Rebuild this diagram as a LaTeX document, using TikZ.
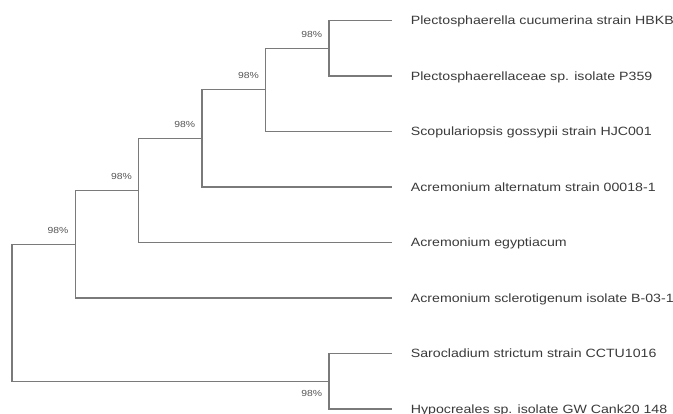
\documentclass[tikz,border=0pt]{standalone}
\usepackage{fontspec}
\setmainfont{Liberation Sans}
\newfontfamily\taxfont[FakeStretch=1.18]{Liberation Sans}
\usetikzlibrary{positioning}
\definecolor{branchgray}{HTML}{7A7A7A}
\definecolor{taxtext}{HTML}{3A3A3A}
\definecolor{bootgray}{HTML}{555555}

\begin{document}
\begin{tikzpicture}[
  x=1pt, y=-1pt,
  node distance=0pt and 19pt,
  branch/.style={draw=branchgray, line width=1.1pt},
  taxon/.style={font=\taxfont\fontsize{12}{14}\selectfont, text=taxtext,
                inner sep=0pt, text height=8.6pt, text depth=0pt},
  boot/.style={font=\taxfont\fontsize{8.8}{10}\selectfont, text=bootgray,
               inner sep=0pt, anchor=base east},
]
\useasboundingbox (0,0) rectangle (673,414);

%% TIPS
\coordinate (e1) at (391.7,20.5);
\coordinate (e2) at (391.7,76);
\coordinate (e3) at (391.7,131.5);
\coordinate (e4) at (391.7,187);
\coordinate (e5) at (391.7,242.5);
\coordinate (e6) at (391.7,298);
\coordinate (e7) at (391.7,353.5);
\coordinate (e8) at (391.7,409);

%% --- INTERNAL NODES ---
\coordinate (n1)   at (329,48.25);
\coordinate (n2)   at (265.7,89.9);
\coordinate (n3)   at (202,138.4);
\coordinate (n4)   at (138.7,190.5);
\coordinate (n5)   at (75.3,244.2);
\coordinate (n7)   at (329,381.25);
\coordinate (root) at (12,312.7);

%% Taxon labels
\node[taxon, right=of e1] (t1) {Plectosphaerella cucumerina strain HBKB};
\node[taxon, right=of e2] (t2) {Plectosphaerellaceae sp. isolate P359};
\node[taxon, right=of e3] (t3) {Scopulariopsis gossypii strain HJC001};
\node[taxon, right=of e4] (t4) {Acremonium alternatum strain 00018-1};
\node[taxon, right=of e5] (t5) {Acremonium egyptiacum};
\node[taxon, right=of e6] (t6) {Acremonium sclerotigenum isolate B-03-1};
\node[taxon, right=of e7] (t7) {Sarocladium strictum strain CCTU1016};
\node[taxon, right=of e8] (t8) {Hypocreales sp. isolate GW Cank20 148};

%% Bootstrap values
\node[boot] (b1) at ([xshift=-6.7pt, yshift=11pt]n1) {98\%};
\node[boot] (b2) at ([xshift=-6.7pt, yshift=11pt]n2) {98\%};
\node[boot] (b3) at ([xshift=-6.7pt, yshift=11pt]n3) {98\%};
\node[boot] (b4) at ([xshift=-6.7pt, yshift=11pt]n4) {98\%};
\node[boot] (b5) at ([xshift=-6.7pt, yshift=11pt]n5) {98\%};
\node[boot] (b7) at ([xshift=-6.7pt, yshift=-15.7pt]n7) {98\%};

%% Branches
\draw[branch] (n1) |- (e1);
\draw[branch] (n1) |- (e2);
\draw[branch] (n2) |- (n1);
\draw[branch] (n2) |- (e3);
\draw[branch] (n3) |- (n2);
\draw[branch] (n3) |- (e4);
\draw[branch] (n4) |- (n3);
\draw[branch] (n4) |- (e5);
\draw[branch] (n5) |- (n4);
\draw[branch] (n5) |- (e6);
\draw[branch] (n7) |- (e7);
\draw[branch] (n7) |- (e8);
\draw[branch] (root) |- (n5);
\draw[branch] (root) |- (n7);

\end{tikzpicture}
\end{document}
